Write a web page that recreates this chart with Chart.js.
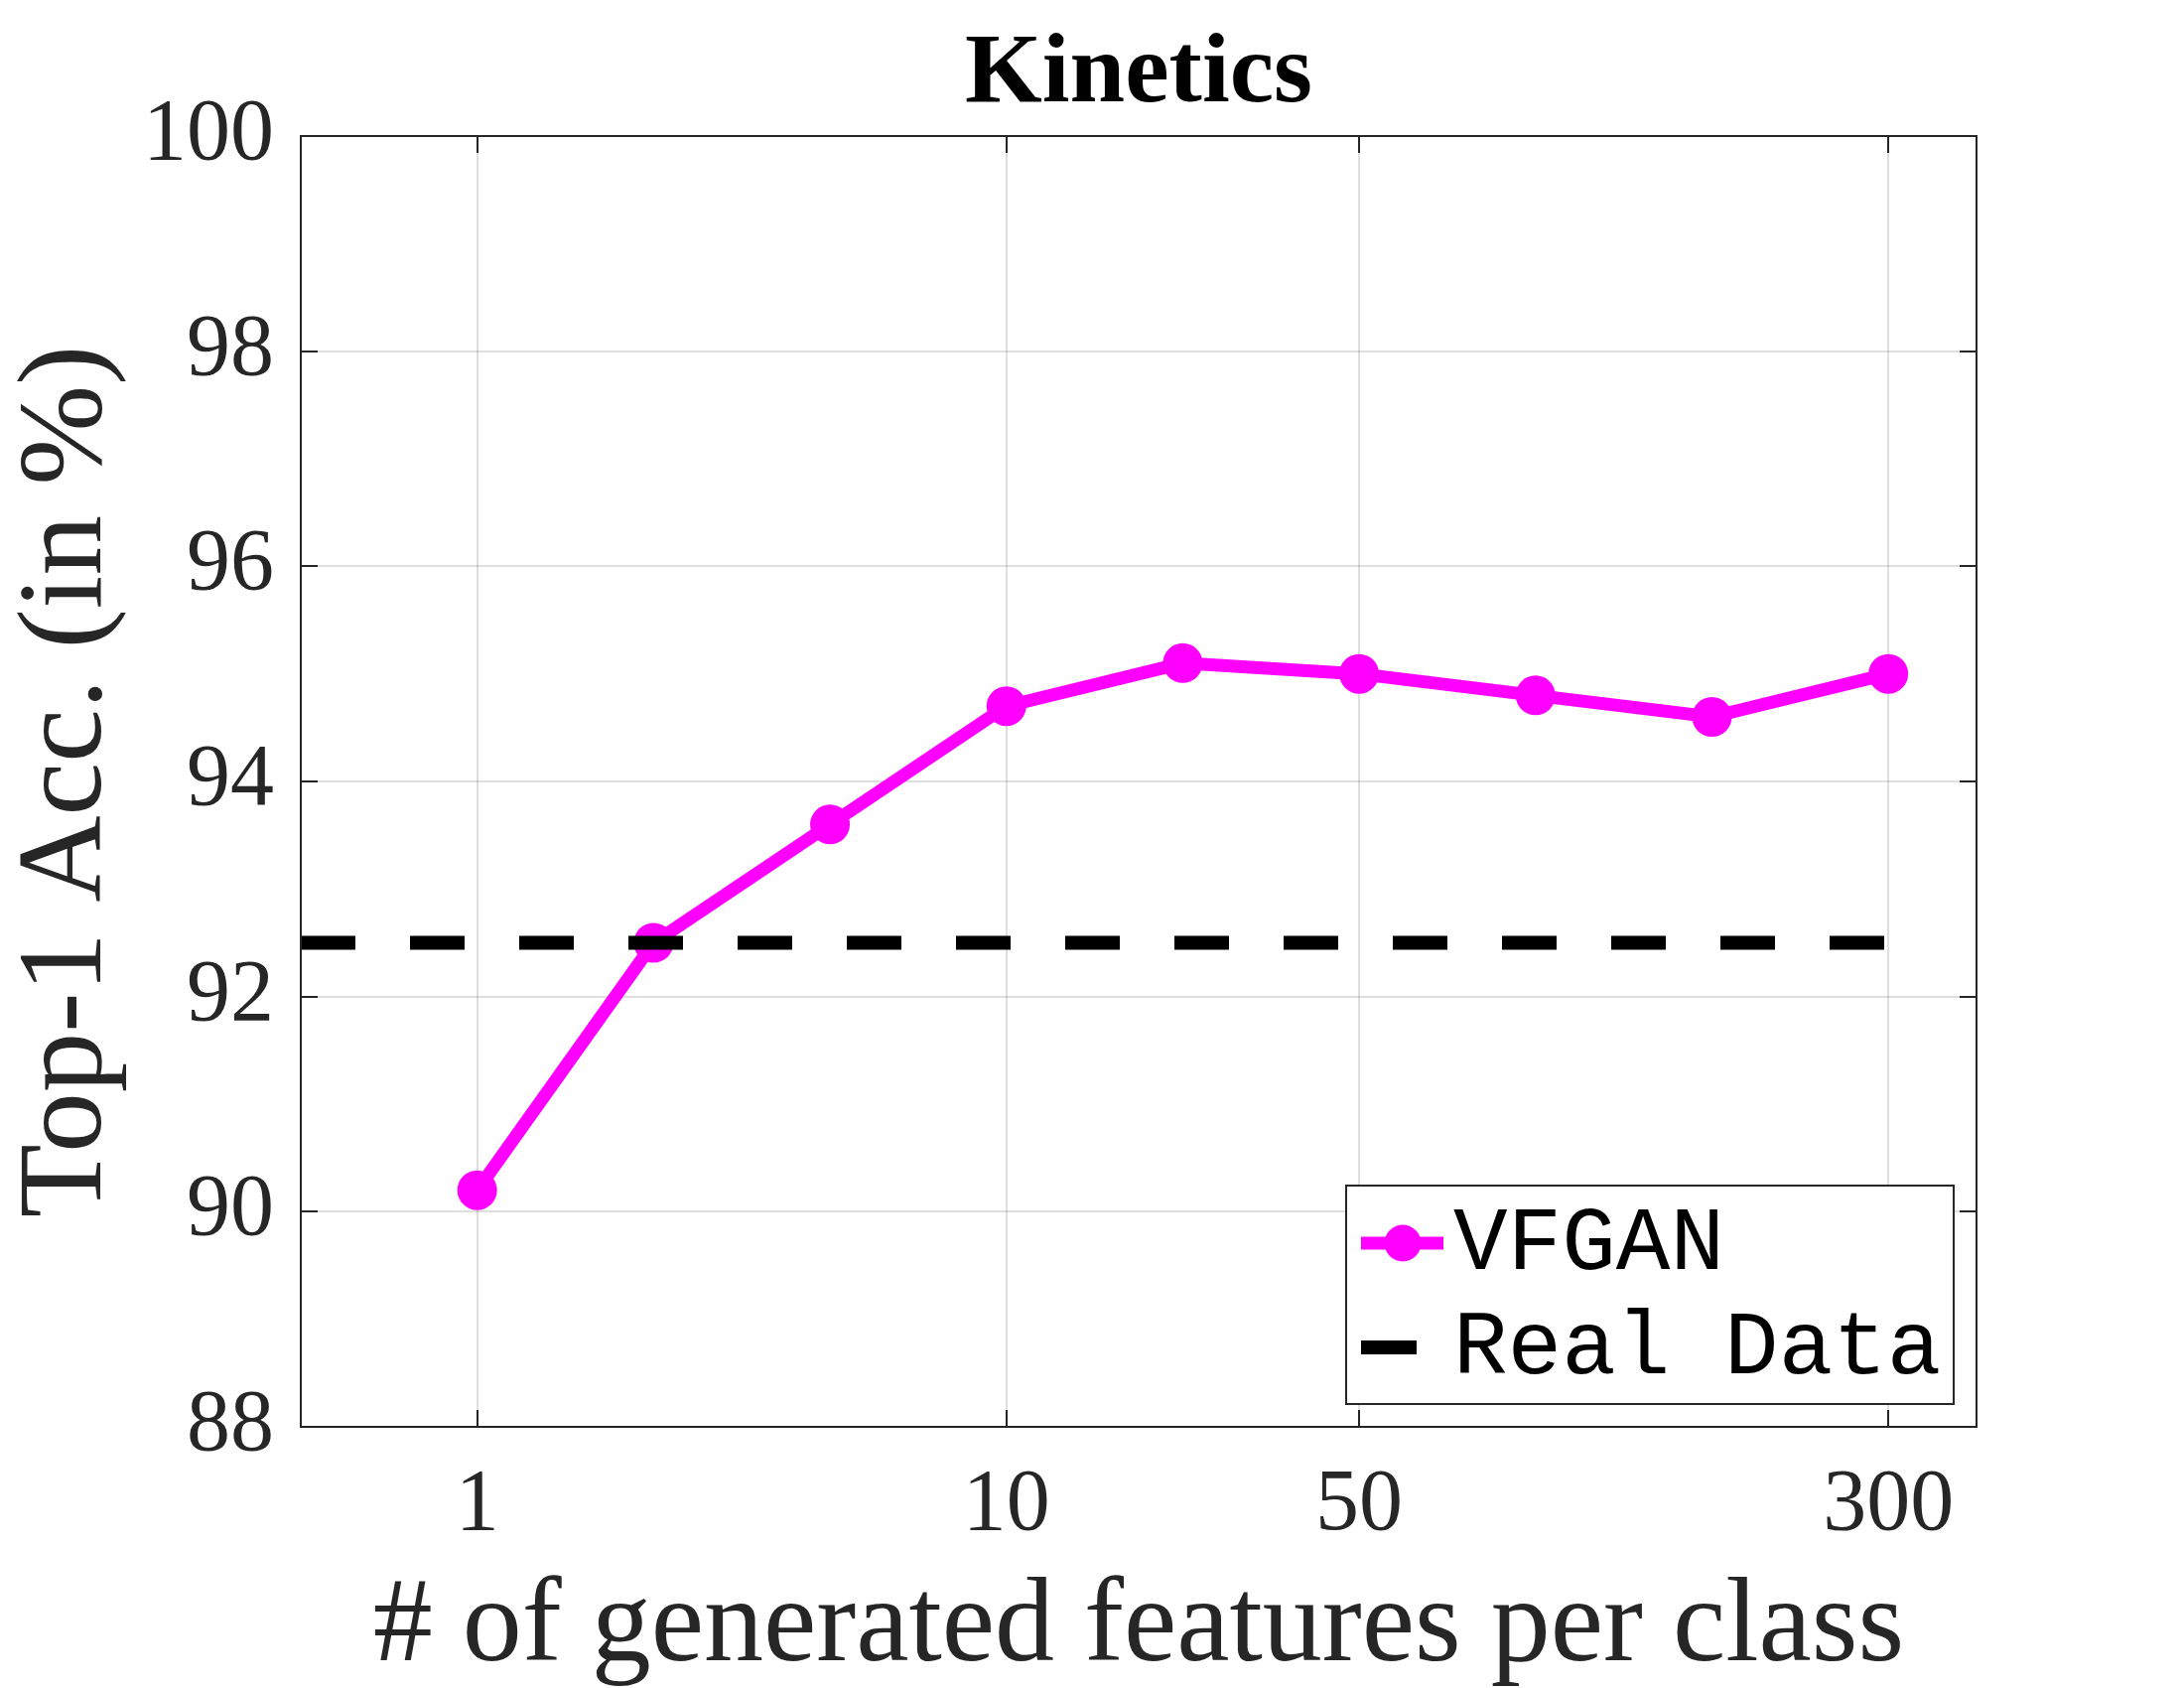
<!DOCTYPE html>
<html>
<head>
<meta charset="utf-8">
<script src="https://cdn.jsdelivr.net/npm/chart.js@4.4.0/dist/chart.umd.min.js"></script>
<style>
  body { margin: 0; background: #fff; }
</style>
</head>
<body>
<canvas id="myChart" width="2200" height="1700"></canvas>
<script>
// data
const featureCounts = [1, 2, 5, 10, 20, 50, 100, 200, 300];
const vfganAcc = [90.2, 92.5, 93.6, 94.7, 95.1, 95.0, 94.8, 94.6, 95.0];
const realDataAcc = 92.5;
const xTickLabels = ['1', '10', '50', '300'];
const yTicks = [88, 90, 92, 94, 96, 98, 100];

const axisColor = '#262626';
const serif = '"Liberation Serif", "Times New Roman", serif';

// x positions are just the index (1..n), labels come from featureCounts
const xTickPos = xTickLabels.map(l => featureCounts.indexOf(Number(l)) + 1);

// box around the axes + inward tick marks (MATLAB look) + title centred on the axes
const axesBox = {
  id: 'axesBox',
  afterDraw(chart) {
    const {ctx, chartArea: a, scales} = chart;
    const len = 17;
    ctx.save();
    ctx.strokeStyle = axisColor;
    ctx.lineWidth = 2;
    ctx.beginPath();
    xTickPos.forEach(v => {
      const px = Math.round(scales.x.getPixelForValue(v));
      ctx.moveTo(px, a.bottom); ctx.lineTo(px, a.bottom - len);
      ctx.moveTo(px, a.top); ctx.lineTo(px, a.top + len);
    });
    yTicks.forEach(v => {
      const py = Math.round(scales.y.getPixelForValue(v));
      ctx.moveTo(a.left, py); ctx.lineTo(a.left + len, py);
      ctx.moveTo(a.right, py); ctx.lineTo(a.right - len, py);
    });
    ctx.stroke();
    ctx.strokeRect(a.left, a.top, a.right - a.left, a.bottom - a.top);

    ctx.fillStyle = '#000';
    ctx.font = 'bold 100px ' + serif;
    ctx.textAlign = 'center';
    ctx.textBaseline = 'alphabetic';
    ctx.fillText('Kinetics', (a.left + a.right) / 2, a.top - 35);
    ctx.restore();
  }
};

// legend box in the lower right corner of the axes
const boxLegend = {
  id: 'boxLegend',
  afterDraw(chart) {
    const {ctx, chartArea} = chart;
    const w = 612, h = 220;
    const x0 = chartArea.right - 23 - w;
    const y0 = chartArea.bottom - 23 - h;
    const rows = [58, 163];
    ctx.save();
    ctx.fillStyle = '#fff';
    ctx.fillRect(x0, y0, w, h);
    ctx.strokeStyle = axisColor;
    ctx.lineWidth = 2;
    ctx.strokeRect(x0, y0, w, h);
    ctx.font = '91px "Liberation Mono", "Courier New", monospace';
    ctx.textBaseline = 'middle';
    chart.data.datasets.forEach((ds, i) => {
      const y = y0 + rows[i];
      ctx.strokeStyle = ds.borderColor;
      ctx.lineWidth = ds.borderWidth;
      ctx.setLineDash([]);
      ctx.beginPath();
      if (ds.pointRadius > 0) {
        ctx.moveTo(x0 + 15, y); ctx.lineTo(x0 + 98, y);
        ctx.stroke();
        ctx.fillStyle = ds.pointBackgroundColor;
        ctx.beginPath();
        ctx.arc(x0 + 57, y, 18.5, 0, Math.PI * 2);
        ctx.fill();
      } else {
        ctx.moveTo(x0 + 15, y); ctx.lineTo(x0 + 71, y);
        ctx.stroke();
      }
      ctx.fillStyle = '#000';
      ctx.fillText(ds.label, x0 + 108, y + 2);
    });
    ctx.restore();
  }
};

const data = {
  datasets: [
    {
      label: 'VFGAN',
      data: vfganAcc.map((v, i) => ({x: i + 1, y: v})),
      borderColor: '#ff00ff',
      backgroundColor: '#ff00ff',
      pointBackgroundColor: '#ff00ff',
      pointBorderColor: '#ff00ff',
      borderWidth: 13,
      pointRadius: 20,
      pointBorderWidth: 0,
      tension: 0,
      order: 1
    },
    {
      label: 'Real Data',
      data: [{x: 0, y: realDataAcc}, {x: featureCounts.length, y: realDataAcc}],
      borderColor: '#000',
      borderWidth: 14,
      borderDash: [55, 55],
      borderCapStyle: 'butt',
      pointRadius: 0,
      order: 0
    }
  ]
};

const config = {
  type: 'line',
  data: data,
  options: {
    responsive: false,
    animation: false,
    devicePixelRatio: 1,
    layout: { padding: { left: 0, right: 209, top: 137, bottom: 0 } },
    plugins: {
      legend: { display: false },
      tooltip: { enabled: false },
      title: { display: false }
    },
    scales: {
      x: {
        type: 'linear',
        min: 0,
        max: featureCounts.length + 0.5,
        afterBuildTicks: s => { s.ticks = xTickPos.map(v => ({value: v})); },
        afterFit: s => { s.height = 263; },
        ticks: {
          callback: v => String(featureCounts[v - 1]),
          color: axisColor,
          font: { family: serif, size: 88 },
          padding: 27,
          maxRotation: 0,
          autoSkip: false
        },
        grid: { color: 'rgba(38,38,38,0.15)', lineWidth: 2, drawTicks: false },
        border: { display: false },
        title: {
          display: true,
          text: '# of generated features per class',
          color: axisColor,
          font: { family: serif, size: 120, lineHeight: 1.0 },
          padding: 0
        }
      },
      y: {
        min: 88,
        max: 100,
        afterBuildTicks: s => { s.ticks = yTicks.map(v => ({value: v})); },
        afterFit: s => { s.width = 303; },
        ticks: {
          color: axisColor,
          font: { family: serif, size: 88 },
          padding: 27
        },
        grid: { color: 'rgba(38,38,38,0.15)', lineWidth: 2, drawTicks: false },
        border: { display: false },
        title: {
          display: true,
          text: 'Top-1 Acc. (in %)',
          color: axisColor,
          font: { family: serif, size: 121, lineHeight: 1.1 },
          padding: { top: 3, bottom: 0 }
        }
      }
    }
  },
  plugins: [axesBox, boxLegend]
};

new Chart(document.querySelector('#myChart'), config);
</script>
</body>
</html>
